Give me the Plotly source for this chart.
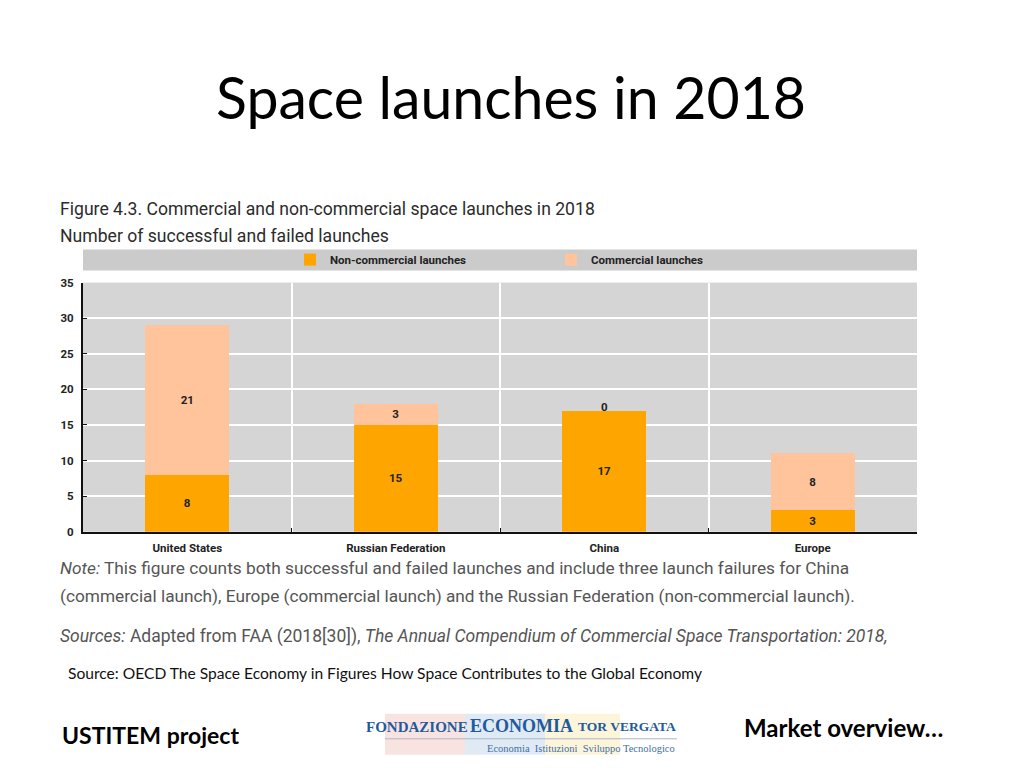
import plotly.graph_objects as go

W, H = 1024, 768
M = 8  # page margin around the figure
FW, FH = W - 2 * M, H - 2 * M
SY = 0.981  # measured vertical ratio of the rendered page
OY = 15.5   # measured vertical origin of the rendered figure
categories = ["United States", "Russian Federation", "China", "Europe"]
non_commercial = [8, 15, 17, 3]
commercial = [21, 3, 0, 8]
y_ticks = [0, 5, 10, 15, 20, 25, 30, 35]

ROBOTO = "Roboto, sans-serif"
LATO = "Lato, sans-serif"
SERIF = "Liberation Serif, serif"
BOLD = dict(family=ROBOTO, size=11.5, color="#222222", weight=700)

def px(x):
    return (x - M) / FW

def py(y):
    return 1 - (y - OY) / SY / FH

fig = go.Figure()
fig.add_bar(name="Non-commercial launches", x=categories, y=non_commercial,
            marker=dict(color="#ffa500", line_width=0), width=0.405,
            text=non_commercial, textposition="inside", insidetextanchor="middle",
            textfont=BOLD, textangle=0)
fig.add_bar(name="Commercial launches", x=categories, y=commercial,
            marker=dict(color="#ffc49b", line_width=0), width=0.405,
            text=[v if v else "" for v in commercial], textposition="inside",
            insidetextanchor="middle", textfont=BOLD, textangle=0)
# zero-height segment: its label sits just above the stack
for c, n, v in zip(categories, non_commercial, commercial):
    if v == 0:
        fig.add_annotation(x=c, y=n, text=str(v), showarrow=False, yanchor="middle",
                           yshift=4, font=BOLD)

def label(x, y, text, size, font=ROBOTO, color="#222222", anchor="left"):
    fig.add_annotation(xref="paper", yref="paper", x=px(x - 1), y=py(y), text=text,
                       showarrow=False, xanchor=anchor, yanchor="middle",
                       align=anchor, borderpad=0,
                       font=dict(family=font, size=size, color=color))

label(512, 97, "Space launches in 2018", 57.2, LATO, "#000000", "center")
label(60, 209, "Figure 4.3. Commercial and non-commercial space launches in 2018", 17.6, color="#2b2b2b")
label(60, 236, "Number of successful and failed launches", 17.6, color="#2b2b2b")
label(60, 568, "<i>Note:</i> This figure counts both successful and failed launches and include three launch failures for China", 17.3, color="#555555")
label(60, 596, "(commercial launch), Europe (commercial launch) and the Russian Federation (non-commercial launch).", 17.25, color="#555555")
label(60, 637, "<i>Sources:</i> Adapted from FAA (2018[30]), <i>The Annual Compendium of Commercial Space Transportation: 2018,</i>", 17.5, color="#555555")
label(68, 673, "Source: OECD The Space Economy in Figures How Space Contributes to the Global Economy", 15.6, LATO, "#111111")
label(62, 735, "<b>USTITEM project</b>", 23, LATO, "#000000")
label(744, 728, "<b>Market overview…</b>", 24, LATO, "#000000")
label(366, 727, "<b>FONDAZIONE</b>", 15, SERIF, "#1f5b9c")
label(470, 726, "<b>ECONOMIA</b>", 18, SERIF, "#1f5b9c")
label(578, 727, "<b>TOR VERGATA</b>", 13.5, SERIF, "#1f5b9c")
label(677, 749, "Economia  Istituzioni  Sviluppo Tecnologico", 10.5, SERIF, "#3f6f9f", "right")

shapes = [
    dict(type="rect", xref="paper", yref="paper", x0=px(83), x1=px(917),
         y0=py(250), y1=py(271), fillcolor="#cbcbcb", line_width=0, layer="below"),
]
for x0, x1, c in [(385, 465, "#f8e3e1"), (465, 545, "#dfeaf5"), (545, 620, "#fcf5da")]:
    shapes.append(dict(type="rect", xref="paper", yref="paper", x0=px(x0), x1=px(x1),
                       y0=py(714), y1=py(755), fillcolor=c, line_width=0, layer="below"))
shapes.append(dict(type="line", xref="paper", yref="paper", x0=px(385), x1=px(677),
                   y0=py(739), y1=py(739), line=dict(color="#a8b8cc", width=1), layer="below"))

fig.update_layout(
    width=FW, height=FH, autosize=False, margin=dict(l=0, r=0, t=0, b=0),
    paper_bgcolor="white", plot_bgcolor="#d5d5d5", barmode="stack", shapes=shapes,
    xaxis=dict(domain=[px(83), px(917)], range=[-0.5, 3.5], type="category",
               tickson="boundaries", ticks="inside", ticklen=4, tickcolor="#111111",
               showgrid=True, gridcolor="white", gridwidth=2,
               showline=True, linecolor="#111111", linewidth=2, zeroline=False,
               tickfont=BOLD, ticklabelstandoff=4),
    yaxis=dict(domain=[py(532), py(283)], range=[0, 35], tickvals=y_ticks,
               ticks="inside", ticklen=4, tickcolor="#111111",
               showgrid=True, gridcolor="white", gridwidth=2,
               showline=True, linecolor="#111111", linewidth=2, zeroline=False,
               tickfont=BOLD, ticklabelstandoff=5),
    legend=dict(orientation="h", x=px(290), y=py(260), xanchor="left", yanchor="middle",
                entrywidth=216, entrywidthmode="pixels", itemwidth=30, traceorder="normal",
                bgcolor="rgba(0,0,0,0)", font=BOLD),
    font=dict(family=ROBOTO),
)
fig.write_html("out.html")
